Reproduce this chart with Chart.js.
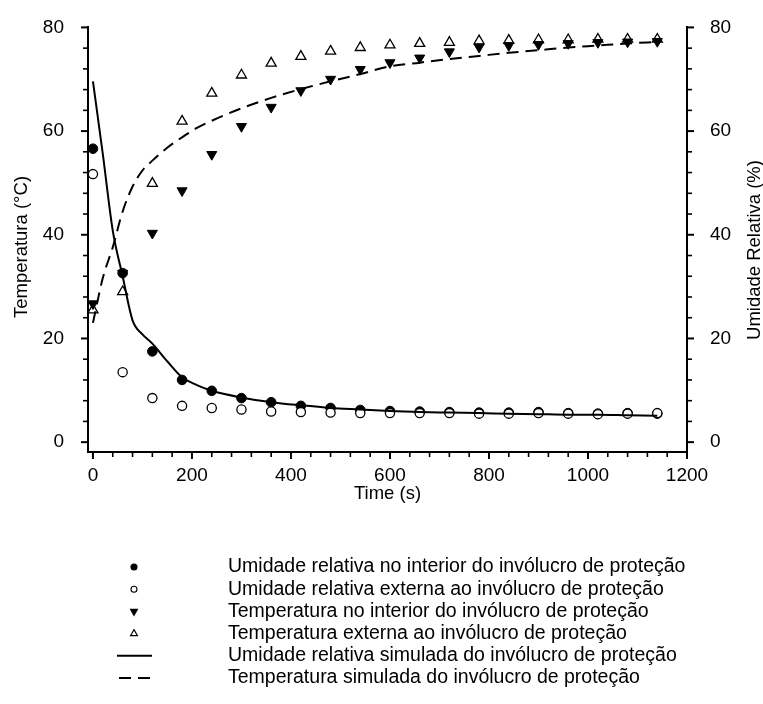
<!DOCTYPE html>
<html>
<head>
<meta charset="utf-8">
<script src="https://cdn.jsdelivr.net/npm/chart.js@4.4.1/dist/chart.umd.min.js"></script>
<style>
  html, body { margin: 0; padding: 0; background: #fff; }
  #wrap { width: 763px; height: 704px; }
</style>
</head>
<body>
<div id="wrap"><canvas id="grafico" width="763" height="704"></canvas></div>
<script>
// medições a cada 60 s
const tempo = [0, 60, 120, 180, 240, 300, 360, 420, 480, 540, 600, 660, 720, 780, 840, 900, 960, 1020, 1080, 1140];
const urInterior = [56.6, 32.6, 17.5, 12.0, 9.9, 8.5, 7.7, 7.0, 6.6, 6.2, 6.0, 5.9, 5.8, 5.7, 5.7, 5.8, 5.6, 5.5, 5.6, 5.5];
const urExterna = [51.7, 13.5, 8.5, 7.0, 6.6, 6.3, 5.9, 5.8, 5.7, 5.6, 5.6, 5.6, 5.6, 5.5, 5.5, 5.6, 5.5, 5.4, 5.5, 5.6];
const tempInterior = [26.7, 32.6, 40.3, 48.5, 55.5, 60.9, 64.6, 67.8, 70.0, 71.9, 73.2, 74.1, 75.3, 76.2, 76.5, 76.7, 76.9, 77.1, 77.2, 77.3];
const tempExterna = [25.5, 29.0, 49.9, 61.9, 67.3, 70.8, 73.1, 74.4, 75.4, 76.1, 76.6, 76.9, 77.1, 77.4, 77.5, 77.6, 77.6, 77.7, 77.7, 77.7];

// curvas do modelo
const tempoSim = [0, 20, 40, 60, 80, 100, 120, 150, 180, 210, 240, 300, 360, 420, 480, 540, 600, 660, 720, 780, 840, 900, 960, 1020, 1080, 1140];
const urSimulada = [69.6, 55.5, 40.8, 32.0, 23.5, 20.8, 19.0, 15.6, 12.5, 11.0, 9.9, 8.6, 7.7, 7.1, 6.6, 6.3, 6.0, 5.8, 5.7, 5.6, 5.5, 5.4, 5.3, 5.3, 5.2, 5.1];
const tempSimulada = [23.0, 31.7, 37.6, 44.5, 49.3, 52.4, 54.3, 56.8, 58.8, 60.6, 62.0, 64.4, 66.4, 68.1, 69.6, 71.0, 72.5, 73.2, 73.9, 74.5, 75.1, 75.6, 76.1, 76.5, 76.9, 77.2];

const ticksX = [0, 200, 400, 600, 800, 1000, 1200];
const ticksY = [0, 20, 40, 60, 80];

const legendas = [
  "Umidade relativa no interior do invólucro de proteção",
  "Umidade relativa externa ao invólucro de proteção",
  "Temperatura no interior do invólucro de proteção",
  "Temperatura externa ao invólucro de proteção",
  "Umidade relativa simulada do invólucro de proteção",
  "Temperatura simulada do invólucro de proteção"
];

const fonte = "'Liberation Sans', Arial, sans-serif";
Chart.defaults.font.family = fonte;
Chart.defaults.color = "#000";

const pares = (xs, ys) => xs.map((x, i) => ({ x: x, y: ys[i] }));

// marcas menores a cada 40 s e a cada 4 unidades
const menoresX = [];
for (let v = 0; v <= 1200; v += 40) menoresX.push(v);
const menoresY = [];
for (let v = 0; v <= 80; v += 4) menoresY.push(v);

const ctx = document.getElementById("grafico").getContext("2d");

const eixos = {
  id: "eixos",
  afterDraw(chart) {
    const c = chart.ctx;
    const area = chart.chartArea;
    const sx = chart.scales.x, sy = chart.scales.y, sy2 = chart.scales.y2;
    c.save();
    c.strokeStyle = "#000";

    // tracinhos dos eixos
    menoresX.forEach(v => {
      const px = sx.getPixelForValue(v);
      const maior = ticksX.includes(v);
      c.lineWidth = maior ? 2 : 1.6;
      c.beginPath();
      c.moveTo(px, area.bottom + 1);
      c.lineTo(px, area.bottom + (maior ? 7 : 5));
      c.stroke();
    });
    menoresY.forEach(v => {
      const maior = ticksY.includes(v);
      c.lineWidth = maior ? 2 : 1.6;
      const len = maior ? 7 : 5;
      const py = sy.getPixelForValue(v);
      c.beginPath();
      c.moveTo(area.left - 1, py);
      c.lineTo(area.left - len, py);
      c.stroke();
      const py2 = sy2.getPixelForValue(v);
      c.beginPath();
      c.moveTo(area.right + 1, py2);
      c.lineTo(area.right + len, py2);
      c.stroke();
    });

    // títulos verticais
    c.fillStyle = "#000";
    c.font = "18.5px " + fonte;
    c.textAlign = "center";
    c.textBaseline = "middle";
    c.save();
    c.translate(22, 247);
    c.rotate(-Math.PI / 2);
    c.fillText("Temperatura (°C)", 0, 0);
    c.restore();
    c.save();
    c.translate(755, 250);
    c.rotate(-Math.PI / 2);
    c.fillText("Umidade Relativa (%)", 0, 0);
    c.restore();

    // legenda
    c.font = "19.5px " + fonte;
    c.textAlign = "left";
    chart.data.datasets.forEach((ds, i) => {
      const y = 567 + i * 22.2;
      c.fillStyle = "#000";
      c.fillText(legendas[i], 228, y);
      if (ds.showLine) {
        c.lineWidth = 2;
        c.setLineDash(ds.borderDash || []);
        c.beginPath();
        c.moveTo(ds.borderDash ? 119 : 117, y);
        c.lineTo(ds.borderDash ? 150 : 152, y);
        c.stroke();
        c.setLineDash([]);
      } else {
        c.fillStyle = ds.backgroundColor;
        c.lineWidth = 1.1;
        Chart.helpers.drawPoint(c, {
          pointStyle: ds.pointStyle,
          radius: ds.pointStyle === "circle" ? 3 : 4,
          rotation: ds.rotation || 0,
          borderWidth: 1.1
        }, 134, y);
      }
    });
    c.restore();
  }
};

const grafico = new Chart(ctx, {
  type: "scatter",
  data: {
    datasets: [
      {
        label: legendas[0],
        data: pares(tempo, urInterior),
        yAxisID: "y2",
        order: 3,
        pointStyle: "circle",
        pointRadius: 4.8,
        backgroundColor: "#000",
        borderColor: "#000",
        borderWidth: 1
      },
      {
        label: legendas[1],
        data: pares(tempo, urExterna),
        yAxisID: "y2",
        order: 1,
        pointStyle: "circle",
        pointRadius: 4.6,
        backgroundColor: "#fff",
        borderColor: "#000",
        borderWidth: 1.3
      },
      {
        label: legendas[2],
        data: pares(tempo, tempInterior),
        yAxisID: "y",
        order: 2,
        pointStyle: "triangle",
        rotation: 180,
        pointRotation: 180,
        pointRadius: 5.8,
        backgroundColor: "#000",
        borderColor: "#000",
        borderWidth: 1
      },
      {
        label: legendas[3],
        data: pares(tempo, tempExterna),
        yAxisID: "y",
        order: 4,
        pointStyle: "triangle",
        pointRadius: 5.8,
        backgroundColor: "#fff",
        borderColor: "#000",
        borderWidth: 1.3
      },
      {
        label: legendas[4],
        data: pares(tempoSim, urSimulada),
        yAxisID: "y2",
        order: 0,
        showLine: true,
        pointRadius: 0,
        borderColor: "#000",
        borderWidth: 2,
        cubicInterpolationMode: "monotone"
      },
      {
        label: legendas[5],
        data: pares(tempoSim, tempSimulada),
        yAxisID: "y",
        order: 0,
        showLine: true,
        pointRadius: 0,
        borderColor: "#000",
        borderWidth: 2,
        borderDash: [12, 7],
        cubicInterpolationMode: "monotone"
      }
    ]
  },
  options: {
    responsive: false,
    animation: false,
    events: [],
    layout: { padding: { left: 0, right: 0, top: 21, bottom: 192 } },
    plugins: {
      legend: { display: false },
      tooltip: { enabled: false }
    },
    scales: {
      x: {
        type: "linear",
        position: "bottom",
        min: -10,
        max: 1200,
        grid: { display: false },
        border: { color: "#000", width: 2 },
        afterBuildTicks: s => { s.ticks = ticksX.map(v => ({ value: v })); },
        afterFit: s => { s.height = 60; },
        ticks: { autoSkip: false, maxRotation: 0, padding: 4, font: { size: 19 }, callback: v => String(v) },
        title: { display: true, text: "Time (s)", font: { size: 18.5 }, padding: { top: 0, bottom: 7 } }
      },
      y: {
        type: "linear",
        position: "left",
        min: -1.9,
        max: 80,
        grid: { display: false },
        border: { color: "#000", width: 2 },
        afterBuildTicks: s => { s.ticks = ticksY.map(v => ({ value: v })); },
        afterFit: s => { s.width = 88; },
        ticks: { padding: 16, font: { size: 19 } }
      },
      y2: {
        type: "linear",
        position: "right",
        min: -1.9,
        max: 80,
        grid: { display: false },
        border: { color: "#000", width: 2 },
        afterBuildTicks: s => { s.ticks = ticksY.map(v => ({ value: v })); },
        afterFit: s => { s.width = 76; },
        ticks: { padding: 15, font: { size: 19 } }
      }
    }
  },
  plugins: [eixos]
});
</script>
</body>
</html>
